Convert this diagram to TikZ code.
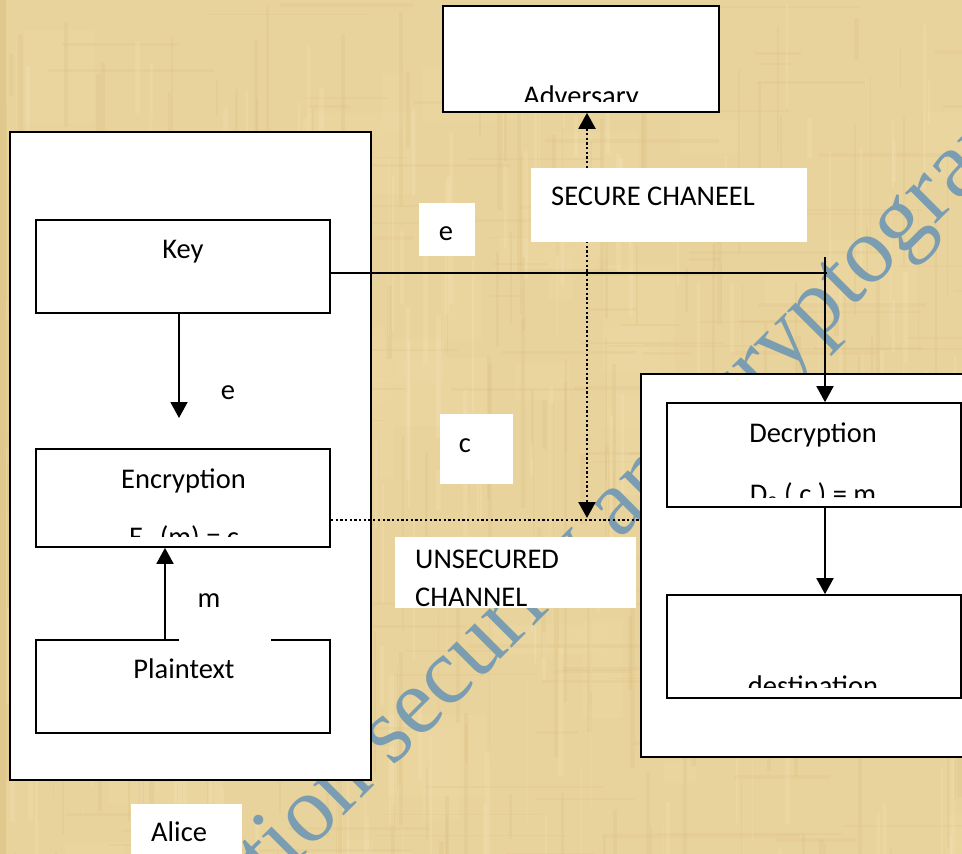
\documentclass[tikz,border=0pt]{standalone}
\usepackage{fontspec}
\setmainfont{Carlito}
\newfontfamily\wmfont{Liberation Serif}
\usetikzlibrary{arrows.meta}
\definecolor{paper}{RGB}{233,211,156}
\definecolor{paperlight}{RGB}{244,228,184}
\definecolor{paperdark}{RGB}{210,180,114}
\definecolor{wmblue}{RGB}{122,157,177}
\newcommand\lbfont{\fontsize{28.5}{34}\selectfont}
\tikzset{
  box/.style={draw=black, fill=white, line width=1.7pt, inner sep=0pt},
  tag/.style={fill=white, inner sep=0pt},
  lbl/.style={inner sep=0pt, anchor=base, font=\lbfont},
  lblw/.style={inner sep=0pt, anchor=base west, font=\lbfont},
  tip/.style={-{Triangle[width=17pt,length=16pt]}},
  arr/.style={line width=1.9pt, tip},
  keyline/.style={line width=1.4pt},
  dots/.style={line width=2.3pt, dash pattern=on 2.3pt off 2.4pt},
}
\begin{document}
\begin{tikzpicture}[x=1pt,y=-1pt]
\useasboundingbox (0,0) rectangle (962,854);
\clip (0,0) rectangle (962,854);

% papyrus background: base tone with fibre streaks
\fill[paper] (0,0) rectangle (962,854);
\pgfmathsetseed{42}
\foreach \i in {1,...,50}{
  \pgfmathsetmacro\xa{rnd*962}
  \pgfmathsetmacro\ya{rnd*854}
  \pgfmathsetmacro\wa{20+rnd*90}
  \pgfmathsetmacro\ha{20+rnd*90}
  \fill[paperlight, opacity=0.12] (\xa,\ya) rectangle ++(\wa,\ha);
}
\foreach \i in {1,...,220}{
  \pgfmathsetmacro\xa{rnd*962}
  \pgfmathsetmacro\ya{rnd*854}
  \pgfmathsetmacro\wa{1+rnd*4}
  \pgfmathsetmacro\ha{30+rnd*170}
  \fill[paperdark, opacity=0.16] (\xa,\ya) rectangle ++(\wa,\ha);
}
\foreach \i in {1,...,160}{
  \pgfmathsetmacro\xa{rnd*962}
  \pgfmathsetmacro\ya{rnd*854}
  \pgfmathsetmacro\wa{30+rnd*170}
  \pgfmathsetmacro\ha{1+rnd*3}
  \fill[paperdark, opacity=0.13] (\xa,\ya) rectangle ++(\wa,\ha);
}
\foreach \i in {1,...,180}{
  \pgfmathsetmacro\xa{rnd*962}
  \pgfmathsetmacro\ya{rnd*854}
  \pgfmathsetmacro\wa{1+rnd*4}
  \pgfmathsetmacro\ha{30+rnd*150}
  \fill[paperlight, opacity=0.28] (\xa,\ya) rectangle ++(\wa,\ha);
}
\fill[paperdark, opacity=0.35] (0,0) rectangle (6,854);

% watermark
\node[rotate=45, anchor=base west, inner sep=0pt, text=wmblue,
      font=\wmfont\fontsize{94}{94}\selectfont] (wm) at (58,1102)
      {Information security and cryptography};

% outer boxes
\node[box, minimum width=361pt, minimum height=648pt] (alice) at (190.5,456) {};
\node[box, minimum width=344pt, minimum height=383pt] (bob) at (813,565.5) {};
\node[box, minimum width=276pt, minimum height=106pt] (adv) at (581,59) {};

% inner boxes
\node[box, minimum width=294pt, minimum height=93pt]  (key)   at (183,266.5) {};
\node[box, minimum width=294pt, minimum height=98pt]  (enc)   at (183,498) {};
\node[box, minimum width=294pt, minimum height=93pt]  (plain) at (183,686.5) {};
\node[box, minimum width=294pt, minimum height=104pt] (dec)   at (814,455) {};
\node[box, minimum width=294pt, minimum height=103pt] (dest)  at (814,646.5) {};

% connectors
\coordinate (ecol) at (179,418);
\draw[arr] (ecol |- key.south) -- (ecol);
\coordinate (mcol) at (165,0);
\draw[arr] (mcol |- plain.north) -- (mcol |- enc.south);
\coordinate (kturn) at (827,273);
\draw[keyline] (kturn -| key.east) -- (kturn);
\coordinate (ktop) at (825,257);
\draw[arr, line width=1.7pt] (ktop) -- (ktop |- dec.north);
\coordinate (dcol) at (825,0);
\draw[arr] (dcol |- dec.south) -- (dcol |- dest.north);
\coordinate (uline) at (0,520);
\draw[dots] (uline -| enc.east) -- (uline -| bob.west);
\coordinate (scol) at (587,0);
\coordinate (sbot) at (587,518);
\draw[dots, {Triangle[width=17pt,length=16pt]}-{Triangle[width=17pt,length=16pt]}]
  (scol |- adv.south) -- (sbot);

% white label patches
\node[tag, minimum width=56pt,  minimum height=53pt] (etag)   at (447,229.5) {};
\node[tag, minimum width=276pt, minimum height=74pt] (sectag) at (669,205) {};
\node[tag, minimum width=73pt,  minimum height=70pt] (ctag)   at (476.5,449) {};
\node[tag, minimum width=241pt, minimum height=71pt] (unstag) at (515.5,572.5) {};
\node[tag, minimum width=92pt,  minimum height=71pt] (mtag)   at (225,605.5) {};
\node[tag, minimum width=111pt, minimum height=60pt] (alicetag) at (186.5,834) {};

% box texts
\begin{scope}
  \clip (443,6) rectangle (719,101);
  \node[lbl] (advtxt) at (581,105.5) {Adversary};
\end{scope}
\node[lbl] (keytxt) at (183,258) {Key};
\node[lbl] (enctxt) at (183.5,488) {Encryption};
\begin{scope}
  \clip (36,449) rectangle (330,536);
  \node[lbl] (encfn) at (184,546) {E\textsubscript{e} (m) = c};
\end{scope}
\node[lbl] (plaintxt) at (184,678) {Plaintext};
\node[lbl] (dectxt) at (813,442) {Decryption};
\begin{scope}
  \clip (667,403) rectangle (961,497);
  \node[lbl] (decfn) at (813,503) {D\textsubscript{e} ( c ) = m};
\end{scope}
\begin{scope}
  \clip (667,595) rectangle (961,687);
  \node[lbl] (desttxt) at (813,695) {destination};
\end{scope}

% label texts
\node[lbl] (etxt) at (446,240) {e};
\node[lbl] (e2txt) at (228,399) {e};
\node[lbl] (ctxt) at (465,452) {c};
\node[lbl] (mtxt) at (209,607) {m};
\node[lblw] (sectxt) at (551,205) {SECURE CHANEEL};
\node[lblw] (unstxt) at (415,568) {UNSECURED};
\node[lblw] (chtxt) at (415,606) {CHANNEL};
\node[lblw] (alicetxt) at (151,841) {Alice};
\end{tikzpicture}
\end{document}
